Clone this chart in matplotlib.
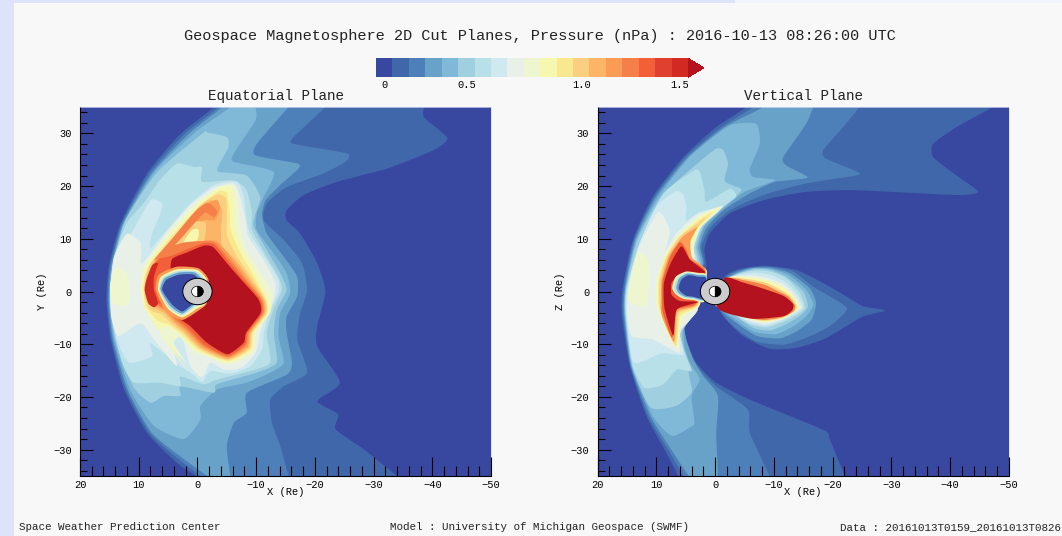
import matplotlib
matplotlib.use("Agg")
import matplotlib.pyplot as plt
import numpy as np
from matplotlib.colors import ListedColormap, BoundaryNorm
from matplotlib.patches import Circle, Wedge, Rectangle

plt.rcParams['font.family'] = ['Liberation Mono', 'DejaVu Sans Mono']

# colorbar blocks, dark blue to red, last one is the arrow
pressure_colors = ["#3847a0", "#3f67a9", "#4d7fb8", "#69a2c9", "#80b9d8", "#a0cfe0", "#b8e0e8",
                   "#d0e8f0", "#e8f0e8", "#eef6cf", "#f6f8b0", "#f9e890", "#fad080", "#fcb566",
                   "#fa9c55", "#f57f48", "#f25f38", "#e0402f", "#d22a22", "#b5121f"]
cbar_tick_blocks = [0.5, 5.5, 12.5, 18.5]
cbar_tick_labels = ["0", "0.5", "1.0", "1.5"]

title = "Geospace Magnetosphere 2D Cut Planes, Pressure (nPa) : 2016-10-13 08:26:00 UTC"
footer_left = "Space Weather Prediction Center"
footer_mid = "Model : University of Michigan Geospace (SWMF)"
footer_right = "Data : 20161013T0159_20161013T0826"

# contour outlines, (X, Y or Z) in Re
# equatorial plane
eq_1 = [(-2.8,37),(-2.8,35),(2.9,29.9),(8.6,22.4),(13.1,12.9),(15.1,4.7),(15.5,-1.6),(14.8,-9.1),(12.5,-18.6),(8.6,-26.8),(3.5,-32.5),(0.3,-35),(-1,-37),
        (-36,-37),(-34,-35),(-28.3,-29.9),(-23.5,-26.1),(-24,-23.3),(-20.4,-20.8),(-24.3,-17.3),(-20.4,-10.4),(-20.4,-6.6),(-21.8,0),(-20.4,5.4),(-17.5,11),(-15.2,13.5),(-15.2,15.4),(-18.1,18.3),(-23.8,20.8),(-32.3,23.3),(-40.2,26.8),(-42.6,29.1),(-38.6,33),(-38.6,35),(-38.6,37)]
eq_2 = [(-3.6,37),(-3.6,35),(2.2,29.9),(8.2,22.4),(12.9,12.9),(14.9,4.7),(15.3,-1.6),(14.6,-9.1),(12.2,-18.6),(8.2,-26.8),(2.9,-32.1),(-0.5,-35),(-1.5,-37),
        (-16,-37),(-15.5,-35),(-14.1,-29.3),(-12.7,-24.9),(-12.4,-20.5),(-14.7,-18),(-18.7,-15.4),(-17,-9.1),(-17.5,-4.1),(-18.7,0.3),(-17.8,5.4),(-14.7,9.8),(-11.3,13.5),(-11.8,16.7),(-15.2,19.8),(-21.5,22.4),(-25.2,24.6),(-25.5,26.2),(-16.4,28),(-16.4,29.3),(-21.8,35),(-23,37)]
eq_3 = [(-4.2,37),(-4.2,35),(1.5,29.9),(7.8,22.4),(12.7,12.9),(14.7,4.7),(15.1,-1.6),(14.4,-9.1),(11.9,-18.6),(7.8,-26.8),(2.3,-31.8),(-1.6,-35),(-2.5,-37),
        (-5.8,-37),(-5.6,-35),(-5,-29.3),(-6.2,-24.9),(-8.4,-23),(-8.4,-19.2),(-15.2,-15.8),(-16.1,-13.5),(-15.2,-7.9),(-15.2,-4.7),(-17,-0.9),(-17,2.8),(-14.7,6.6),(-11.8,11),(-11,14.5),(-11.6,17.3),(-14.1,20.2),(-17.2,23.3),(-17,24.3),(-9.9,25.8),(-10.1,28),(-15.5,35),(-16.5,37)]
eq_4 = [(-5.6,37),(-5.6,35),(0.4,30.2),(7.3,22.7),(12.5,12.9),(14.5,4.7),(15,-1.6),(14.2,-9.1),(11.5,-18.6),(7.4,-25.5),(2.3,-28),(-0.5,-24.3),(-0.5,-21.7),(-3.3,-18.6),(-8.4,-17.3),(-12.4,-15.4),(-14.7,-13.5),(-13.8,-8.5),(-14.1,-4.1),(-15.8,-0.3),(-15.2,3.5),(-13,7.2),(-10.1,11.7),(-10.1,14.8),(-11.3,18),(-13,22.7),(-6.2,24.6),(-6.2,26.2),(-9.9,32.5),(-9.9,35),(-9.9,37)]
eq_5 = [(-1.1,30.2),(6.8,22.7),(12.3,13.5),(14.4,4.7),(14.9,-1.6),(14,-9.1),(11,-18),(8,-21.1),(5.7,-19.8),(2.9,-19.8),(2.9,-18),(-2.8,-19.2),(-3.3,-17.6),(-10.1,-15.4),(-13.5,-13.5),(-13,-7.9),(-13.5,-3.5),(-15.2,0.3),(-14.1,3.5),(-11.8,7.9),(-9.6,12.3),(-9.9,14.8),(-10.7,18),(-8.4,22),(-3.6,22.7),(-3.6,23.9),(-5.3,27.4),(-5,29.3),(-1.6,30.2)]
eq_6 = [(3.5,24.3),(6.5,21),(9,17),(12.1,12.9),(14.3,6),(14.9,-1.6),(13.9,-9.1),(12.6,-14.2),(10.8,-17.3),(6.3,-17.3),(2.9,-18),(2.9,-16.1),(-1.1,-17.6),(-3.3,-16.7),(-9,-15.1),(-12.4,-13.5),(-11.8,-7.9),(-13,-3.2),(-14.4,0.3),(-13.8,2.8),(-11.8,6.6),(-9.3,11.7),(-9.3,14.8),(-8.4,19.2),(-6.2,21.1),(-0.8,20.8),(-0.8,23.6),(0.6,23.6)]
eq_7 = [(8,17.3),(11.3,11),(14.2,6),(14.8,-1.6),(13.7,-9.1),(11.7,-13.5),(7.7,-12.3),(8,-9.8),(2.9,-14.2),(0.6,-15.8),(-0.8,-17.2),(-2.2,-15.1),(-5.6,-15.6),(-9,-14.2),(-11,-11),(-11.3,-7.9),(-12.4,-3.5),(-13.8,-0.3),(-13.8,2.2),(-11.8,6),(-9,11),(-8.4,13.5),(-7.9,18),(-6.7,20.8),(-2.8,20.2),(1.2,16.7),(5.2,11.7),(8,8.2),(7.7,11),(6.3,14.8),(6,16.7)]
eq_8 = [(12,11),(9.6,9.1),(9.7,5.4),(8.8,6),(5.2,11.3),(1.2,16.4),(-2.8,19.7),(-6.2,20.5),(-7.3,18),(-8.2,13.5),(-8.7,10.4),(-11.6,5.4),(-13.3,1.6),(-13,-1.6),(-11.8,-4.1),(-10.7,-7.9),(-9.9,-11.7),(-7.3,-14.6),(-4.5,-14.8),(-2.2,-13.5),(-0.8,-16.3),(1.2,-14.2),(2.3,-9.8),(3.5,-7.9),(4.6,-9.1),(3.5,-14.2),(7.4,-9.1),(9.7,-6),(13.5,-8.5),(14.7,-4.7),(14.8,0.9),(14.2,6.6)]
eq_9 = [(8.8,5.4),(5.2,11),(0.9,16.1),(-3.3,19.7),(-6.2,20.2),(-7,17.3),(-7.2,12.9),(-8.2,8.5),(-10.4,4.2),(-12.7,0),(-12.4,-4),(-10,-7.8),(-9.6,-11.6),(-5.2,-13.9),(-1.6,-12.3),(0.6,-11.7),(2.9,-8.7),(4,-9.8),(2,-13.5),(5.7,-9.1),(6.9,-6.6),(8.8,-3.5),(9.8,0.3),(9.6,2.8)]
eq_9b = [(14.2,4.4),(12,3.5),(11.5,-0.9),(12.2,-2.8),(14.5,-2.2),(14.9,0.9)]
eq_10 = [(8.4,5.4),(4.6,10.7),(0.6,15.8),(-3.6,19.5),(-5.6,19.7),(-6.2,16.7),(-6.3,12.3),(-7.6,8),(-9.8,3.8),(-12.1,-1.5),(-12.1,-4.1),(-9.7,-7.8),(-9.3,-11.2),(-5.2,-13.5),(0,-11.3),(3,-8.2),(5,-6.6),(6.3,-7.2),(4.6,-10.7),(1.8,-14.8),(5.7,-8.5),(7.4,-6),(9,-3.2),(9.5,0.3),(9.2,2.8)]
eq_11 = [(8.1,5.4),(4,11),(0,15.8),(-3.6,19),(-5,18.6),(-5.5,15),(-5.6,12),(-7,8),(-9.3,3.5),(-11.7,-1.5),(-11.9,-4.1),(-9.5,-7.8),(-9.1,-11),(-5.2,-13.2),(-0.2,-11.1),(2.8,-8),(4.8,-6.4),(6.9,-5.4),(8.8,-2.8),(9.2,0.3),(9,2.8)]
eq_12 = [(7.7,5.7),(2.9,11.3),(-0.2,16.1),(-3.3,18.4),(-4.9,17.6),(-5,13.5),(-5.1,10.5),(-6.8,6.5),(-9,3),(-11.5,-1.5),(-11.7,-4.1),(-9.3,-7.8),(-8.9,-10.8),(-5.2,-13),(-0.4,-10.9),(2.5,-7.8),(4.4,-6.2),(6,-4.4),(8,-3.5),(9,-0.9),(8.8,2.8)]
eq_13 = [(7.4,5.7),(2.3,11.7),(-0.8,16.4),(-2.5,17.3),(-4.2,15.5),(-4,11.7),(-4.2,8.6),(-6.5,6),(-8.7,2.7),(-11.3,-1.5),(-11.5,-4.1),(-9.1,-7.8),(-8.7,-10.6),(-5.2,-12.8),(-0.6,-10.7),(2.3,-7.6),(4,-6),(5.6,-4.1),(7.7,-2.8),(8.7,-0.9),(8.6,2.8)]
eq_14 = [(7.1,5.9),(4,10.4),(0.8,14.7),(-1.1,16.4),(-3.3,17.4),(-3.9,15.8),(-3,13.6),(-1,13.5),(1.5,11.8),(3,9.9),(2,9),(-1.5,9.7),(-3.5,9.4),(-6.2,5.8),(-8.4,2.5),(-11.1,-1.5),(-11.3,-4.1),(-8.9,-7.8),(-8.5,-10.4),(-5.2,-12.6),(-0.8,-10.5),(2,-7.4),(3.8,-5.8),(5.4,-3.8),(7.4,-2.5),(8.4,-0.9),(8.3,2.8)]
eq_isle_12 = [(4,8.3),(1.2,13),(-1.4,13),(-1,9.2),(1.8,7.9)]
eq_isle_10 = [(2.3,9.5),(0.9,11.7),(-0.2,11.7),(0,9.8),(1.8,8.9)]
eq_strip = [(7.4,6),(4,10.4),(0,15.6),(-1.9,16.8),(-3.4,15.2),(-2.8,14.1),(-1.4,15),(0,13.6),(3.5,9.2),(5.7,7)]
eq_15 = [(7,6),(5.2,8.2),(2.3,9.3),(-1.4,9.6),(-3.2,9.1),(-5.9,5.5),(-8.1,2.4),(-10.9,-1.5),(-11.2,-4.1),(-8.7,-7.8),(-8.3,-10.2),(-5.2,-12.4),(-1,-10.3),(1.8,-7.2),(3.5,-5.6),(5.4,-3.5),(7.3,-2.2),(8.2,-0.9),(8.1,2.8)]
eq_16 = [(6.6,6.1),(4.6,6.7),(2,7.9),(-1.2,9.2),(-3,8.8),(-5.6,5.2),(-7.8,2.3),(-10.7,-1.5),(-11,-4.1),(-8.5,-7.8),(-8.1,-10),(-5.2,-12.2),(-1.2,-10.1),(1.5,-7),(3.2,-5.4),(5.4,-3.2),(7.1,-1.9),(8,-0.9),(7.9,2.8)]
eq_red = [(4.3,6.2),(1.8,7.4),(-1.1,8.7),(-2.7,8.4),(-5.3,5),(-7.5,2.2),(-10.4,-1.5),(-10.8,-4),(-8.3,-7.8),(-7.9,-9.7),(-5.1,-11.9),(-1.6,-9.7),(1.2,-6.6),(2.9,-5.3),(4.6,-4),(4.6,3.5)]
eq_crescent = [(7.7,5),(6.7,5.4),(7.4,2.8),(7.4,0.3),(6.7,-2.2),(7.4,-3),(8.4,-2.2),(9,0.3),(8.7,2.2)]
eq_hole_1 = [(7.1,0.3),(6.6,3.2),(3.5,4.7),(-0.2,4.4),(-1.9,2.2),(-1.6,-2.2),(-0.2,-3.6),(2.6,-5.4),(5.4,-3.8)]
eq_hole_2 = [(6.7,0.3),(6.2,2.8),(3.5,4.2),(0.1,4.1),(-1.6,2.2),(-1.4,-2.2),(0,-3.2),(2.6,-4.9),(5,-3.3)]
eq_hole_3 = [(6.5,0.3),(5.9,2.6),(3.3,3.9),(0.2,3.8),(-1.4,1.9),(-1.1,-2.2),(0.3,-2.8),(2.6,-4.5),(4.8,-3.1)]
eq_hole_4 = [(6.3,0.3),(5.6,2.5),(3.2,3.6),(0.4,3.6),(-1.1,1.6),(-0.8,-2.2),(0.6,-2.6),(2.6,-4.2),(4.6,-2.8)]
eq_hole_5 = [(6,0.3),(5.3,2.2),(3.1,3.2),(0.6,3.2),(-0.8,1.3),(-0.5,-2.2),(0.9,-2.5),(2.6,-3.8),(4.3,-2.5)]

# vertical plane
vt_1 = [(-5.3,37),(-5.3,35),(-0.2,31.2),(5.4,25.5),(10.6,18),(14,9.8),(15.7,0.9),(15.9,-4.1),(14.5,-14.2),(11.7,-23.6),(8.3,-30.6),(6.3,-35),(5.5,-37),
        (-23,-37),(-22.1,-35),(-19.5,-28),(-18.9,-26.5),(-12.7,-23.6),(-5.9,-20.5),(-0.2,-17.3),(3.2,-13.5),(4.9,-9.1),(5.4,-6),(4.3,-4.1),(2.9,-2.5),(2.9,2.8),(1.5,4.7),(1.8,7.9),(0.9,11),(-2.5,14.8),(-8.2,17.3),(-15.5,18.9),(-24,19.2),(-41.1,18.3),(-44.8,18.9),(-41.1,22),(-37.1,25.5),(-37.1,28),(-41.1,31.2),(-47.3,35),(-50,37)]
vt_2 = [(-6.5,37),(-6.5,35),(-1.1,31.2),(5,25.5),(10.3,18),(13.8,9.8),(15.5,0.9),(15.7,-4.1),(14.4,-14.2),(11.4,-23.6),(7.7,-30.6),(5.4,-35),(4.5,-37),
        (-10,-37),(-9.3,-35),(-5.9,-26.8),(-5.6,-22.4),(-0.2,-18),(2.6,-14.8),(4.3,-11.7),(5.2,-7.9),(5.4,-5.7),(4,-4.1),(2.9,-2.7),(2.9,2.8),(1.8,5.4),(2.3,8.5),(0.9,12),(-2.5,15.4),(-8.2,18.3),(-15.5,20.5),(-24,22),(-24.3,22.7),(-18.9,25.2),(-18.4,26.8),(-21.8,31.2),(-24.6,35),(-26,37)]
vt_3 = [(-8.2,37),(-8.2,35),(-1.6,31.2),(4.6,25.5),(10,18),(13.6,9.8),(15.3,0.9),(15.5,-4.1),(14.3,-14.2),(11,-23.6),(7.1,-30.6),(4.5,-35),(3.5,-37),
        (-0.5,-37),(-0.5,-35),(-0.2,-26.8),(-0.5,-19.8),(2,-16.1),(3.7,-12.9),(4.9,-9.1),(5.2,-6.3),(4,-4.4),(3.1,-2.8),(2.9,2.8),(2,5.4),(2.6,8.5),(1.5,12),(-1.4,15.4),(-5.9,18.6),(-10.2,20.8),(-15.8,21.6),(-12.1,23.9),(-11.6,25.5),(-15.5,31.8),(-16.7,35),(-17.5,37)]
vt_4 = [(-7,31.8),(-2.5,31.5),(4.1,25.8),(9.6,18),(13.4,9.8),(15.2,0.9),(15.4,-4.1),(14.2,-14.2),(10.6,-23.6),(7.4,-27.4),(4.3,-25.8),(3.5,-24.9),(4,-19.8),(2.6,-16.7),(4.3,-13.5),(5.2,-10.4),(5.4,-6.6),(4,-4.7),(3.2,-3.2),(2.9,3.2),(2.3,5.4),(2.9,8.5),(1.8,12.3),(-1.1,15.4),(-5,18.9),(-10.2,21.1),(-6.5,21.7),(-5.9,23.3),(-7.6,28)]
vt_5 = [(-1.4,26.8),(-0.2,27.1),(3,24.3),(9.2,18),(13.2,9.8),(15.1,0.9),(15.3,-4.1),(14.1,-14.2),(11,-22),(6.6,-21.7),(4,-19.2),(4.3,-16.7),(4.6,-14.8),(5.2,-11.7),(5.7,-7.9),(4.3,-5.4),(3.3,-3.3),(2.9,3.2),(2.6,5.4),(3.2,8.5),(2,12.3),(-0.5,15.1),(-4.5,19.2),(-2.8,20.2),(-1.6,21.1),(-2.2,24.3)]
vt_6 = [(2.6,22.7),(3.7,22.9),(8.8,18.6),(12.6,9.8),(15,0.9),(15.2,-4.1),(14,-14.2),(12,-18.3),(8.8,-17.6),(6.5,-14.8),(4,-15.1),(4.9,-12.3),(6,-7.9),(4.3,-5.4),(2.9,-3.2),(2.9,3.2),(2.9,5.4),(3.5,8.5),(2.3,12.3),(-0.2,15.1),(-3.6,18),(-2.5,19.5),(1.5,17),(1.8,19.2)]
vt_7 = [(5.4,18.3),(6.6,19.1),(10,16.1),(13.1,8.5),(14.9,0.9),(15.1,-4.1),(13.9,-13.5),(9.1,-11.7),(5.4,-12),(6,-7.9),(4.3,-5.4),(2.9,-3.2),(2.9,3.2),(3.2,5.4),(3.7,8.5),(2.9,12.3),(0.1,15.1),(-1.4,16.1),(2.6,15.1),(4.9,13.5),(4.9,16.1)]
vt_8 = [(9.7,15.1),(8,12.6),(7.7,11),(8.4,7.9),(6.6,11),(3.2,14.5),(-1.1,16.2),(-0.5,15.1),(2.3,12.3),(3.6,8.5),(3.3,5.4),(2.9,3.2),(2.9,-3.2),(4.3,-5.4),(6.3,-7.9),(6,-11.7),(10.6,-9.1),(14.2,-8.5),(15,-4.1),(14.7,0.9),(12.9,8.5)]
vt_9 = [(10,2.2),(8.7,6.6),(6.5,10.4),(2.6,14.4),(-1.2,16.2),(0.1,14.8),(2.6,12),(3.7,8.5),(3.5,5.4),(1.5,4),(2.9,-3),(4.6,-4.1),(5.8,-7),(6.3,-11),(8,-8.4),(10,-2.8)]
vt_9b = [(13.1,7.6),(11.4,6),(11.2,2.2),(11.7,-2.8),(14.8,-1.6),(14.2,3.5)]
vt_10 = [(9.8,2.2),(8.5,6.6),(6.3,10.4),(2.5,14.2),(-0.8,16),(0.3,14.7),(2.9,11.7),(4,8.5),(3.6,5.4),(1.4,3.9),(2.6,-2.6),(4.3,-3.9),(5.9,-5),(6.5,-10.6),(8,-8),(9.8,-2.8)]
vt_11 = [(9.6,2.2),(8.3,6.6),(6.1,10.4),(2.6,13.7),(0.2,15.1),(3.2,11.7),(4.3,8.5),(3.7,5.4),(1.4,3.8),(2.8,-2.5),(4.6,-3.7),(6,-4.8),(6.6,-10.4),(8,-7.5),(9.6,-2.8)]
vt_12 = [(9.4,2.2),(8.2,6.6),(6,10.4),(3,12.9),(1.5,14.1),(3.6,11.3),(4.5,8.5),(3.8,5.9),(1.5,3.9),(2.9,-2.4),(4.9,-3.5),(6.3,-4.4),(6.8,-10),(8,-7),(9.4,-2.8)]
vt_14 = [(9.1,2.2),(7.9,6.6),(5.6,10.3),(3,12.2),(4.2,9.6),(3.9,6.4),(1.6,4),(3.1,-2.4),(5,-3.3),(6.5,-4),(7,-9.6),(9.1,-4.5),(9.2,-1)]
vt_16 = [(8.9,2.2),(7.6,6.7),(6,9.4),(4.9,7.9),(4.2,6),(1.7,3.9),(3.2,-2.2),(5.2,-3),(6.7,-3.6),(7.3,-8.8),(8.9,-4),(9,-1)]
vt_red = [(5.7,8.6),(4.3,6.1),(1.6,3.6),(4.5,3.7),(6,3.2),(7.4,1.7),(7.4,-0.6),(6,-1.8),(2.8,-2),(6.5,-3.4),(7.1,-8.4),(8.6,-3.2),(8.7,1.6),(7.5,5.5)]
vt_hole_1 = [(7.3,0.7),(6.7,2.8),(4.9,3.8),(2.9,3.5),(1.5,3.1),(1.8,-1.9),(3.7,-1.6),(5.4,-1.4),(6.7,-0.5)]
vt_hole_2 = [(7,0.7),(6.4,2.6),(4.8,3.6),(2.9,3.3),(1.5,2.9),(1.8,-1.7),(3.7,-1.4),(5.3,-1.2),(6.5,-0.4)]
vt_hole_3 = [(6.6,0.7),(6.1,2.5),(4.7,3.4),(2.9,3.1),(1.5,2.8),(1.8,-1.5),(3.7,-1.2),(5.1,-1),(6.2,-0.3)]
vt_hole_4 = [(6.2,0.7),(5.7,2.3),(4.5,3.1),(2.9,2.8),(1.5,2.5),(1.8,-1.3),(3.7,-1),(4.9,-0.8),(5.8,-0.1)]
# plasma sheet behind the earth
tail_1 = [(-1.4,2.5),(-3.6,4.1),(-8.2,4.9),(-13.8,4.1),(-18.4,1.6),(-22.3,-0.9),(-25.2,-2.8),(-29,-3.6),(-25.2,-4.7),(-22.3,-6.6),(-18.4,-9.1),(-13.8,-10.7),(-9.3,-10.9),(-4.8,-8.5),(-1.9,-5.4),(-0.5,-2.8)]
tail_2 = [(-1.9,2.8),(-5.3,4.4),(-9.3,4.7),(-13.3,3.8),(-16.7,0.9),(-19.5,-0.9),(-22.5,-3.3),(-19.5,-6.6),(-15.5,-8.8),(-11.6,-10.1),(-7,-9.5),(-3.1,-6.6),(-0.8,-3.2)]
tail_3 = [(-2.5,2.8),(-5.9,4.4),(-9.3,4.5),(-12.7,3.5),(-16.1,0.6),(-17.2,-2.2),(-16.4,-5.4),(-13.8,-7.6),(-11,-8.9),(-7,-8.4),(-3.3,-5.7),(-0.9,-3)]
tail_4 = [(-2.8,2.8),(-6.5,4.4),(-9.3,4.3),(-12.4,3.2),(-15.5,0.3),(-16.7,-2.5),(-15.5,-4.7),(-13.3,-6.6),(-10.4,-8.1),(-6.5,-7.6),(-3.1,-5),(-0.8,-2.8)]
tail_5 = [(-2.8,2.7),(-6.5,4.2),(-9.3,4.1),(-12.1,2.8),(-15,0),(-15.8,-2.8),(-14.7,-4.4),(-12.1,-6.2),(-9.3,-7.4),(-6.5,-6.9),(-3.1,-4.4),(-0.5,-2.7)]
tail_6 = [(-2.5,2.6),(-6.5,4),(-9.3,3.8),(-12.1,2.5),(-14.4,-0.2),(-15.3,-3),(-14.1,-4.3),(-11.6,-5.8),(-8.7,-6.8),(-5.9,-6.2),(-2.8,-4.1),(-0.3,-2.7)]
tail_7 = [(-2.3,2.5),(-6.5,3.6),(-9.3,3.2),(-12,1.8),(-14,-0.5),(-15,-3),(-13.7,-4.2),(-11.5,-5.5),(-8.7,-6.5),(-5.9,-5.9),(-2.8,-3.9),(-0.2,-2.6)]
tail_8 = [(-2.1,2.5),(-6.2,3.1),(-9,2.6),(-11.8,1.3),(-13.6,-0.7),(-14.7,-3),(-13.4,-4.1),(-11.3,-5.3),(-8.6,-6.2),(-5.9,-5.6),(-2.8,-3.7),(-0.1,-2.5)]
tail_10 = [(-1.9,2.6),(-6,2.7),(-9,2.1),(-11.5,0.9),(-13.2,-0.6),(-14.3,-3),(-13.4,-4),(-11.4,-5.2),(-8.5,-5.8),(-5.8,-5.2),(-2.7,-3.5),(0,-2.5)]
tail_12 = [(-1.7,2.5),(-5.8,2.3),(-8.8,1.6),(-11.2,0.3),(-12.8,-0.9),(-13.9,-2.9),(-13.3,-3.9),(-11.4,-5),(-8.4,-5.6),(-5.7,-5),(-2.6,-3.3),(0.1,-2.4)]
tail_15 = [(-1.6,2.5),(-5.6,2),(-8.6,1.2),(-11,-0.1),(-12.5,-1),(-13.6,-2.7),(-13.3,-3.8),(-11.4,-4.9),(-8.3,-5.4),(-5.6,-4.9),(-2.5,-3.2),(0.1,-2.4)]
tail_red = [(-1.6,2.6),(-4.5,1.8),(-7.5,0.8),(-11.6,-0.8),(-13.3,-2.4),(-13.1,-3.6),(-11.6,-4.7),(-6.5,-5.2),(-2,-4.1),(-0.3,-2.7)]

# (colour block, outline), painted in this order
eq_layers = [(1,eq_1),(2,eq_2),(3,eq_3),(4,eq_4),(5,eq_5),(6,eq_6),(7,eq_7),(8,eq_8),(9,eq_9),(9,eq_9b),(10,eq_10),
             (11,eq_11),(12,eq_12),(13,eq_13),(14,eq_14),(12,eq_isle_12),(10,eq_isle_10),(15,eq_15),(15,eq_strip),(16,eq_16),(19,eq_red),(18,eq_crescent),
             (14,eq_hole_1),(10,eq_hole_2),(6,eq_hole_3),(3,eq_hole_4),(0,eq_hole_5)]
vt_layers = [(1,vt_1),(2,vt_2),(3,vt_3),(4,vt_4),(5,vt_5),(6,vt_6),(7,vt_7),(8,vt_8),(9,vt_9),(9,vt_9b),(10,vt_10),
             (11,vt_11),(12,vt_12),(14,vt_14),(16,vt_16),(19,vt_red),
             (10,vt_hole_1),(6,vt_hole_2),(3,vt_hole_3),(0,vt_hole_4),
             (1,tail_1),(2,tail_2),(3,tail_3),(4,tail_4),(5,tail_5),(6,tail_6),(7,tail_7),(8,tail_8),
             (10,tail_10),(12,tail_12),(15,tail_15),(19,tail_red)]


def smooth(outline, steps=6, k=0.3):
    # closed cardinal spline through the read points
    p = np.array(outline, dtype=float)
    m = k*(np.roll(p, -1, axis=0) - np.roll(p, 1, axis=0))
    t = np.linspace(0, 1, steps, endpoint=False)[:, None, None]
    p0, p1, m0, m1 = p[None], np.roll(p, -1, axis=0)[None], m[None], np.roll(m, -1, axis=0)[None]
    c = (2*t**3-3*t**2+1)*p0 + (t**3-2*t**2+t)*m0 + (-2*t**3+3*t**2)*p1 + (t**3-t**2)*m1
    return c.transpose(1, 0, 2).reshape(-1, 2)


def draw_panel(ax, layers, panel_title, ylab, title_x):
    ax.set_facecolor(pressure_colors[0])
    for level, outline in layers:
        pts = smooth(outline)
        ax.fill(pts[:, 0], pts[:, 1], color=pressure_colors[level], lw=0)
    # earth
    ax.add_patch(Circle((0, 0), 2.5, fc="#cccccc", ec="black", lw=0.7, zorder=5))
    ax.add_patch(Circle((0, 0), 1.0, fc="white", ec="black", lw=0.5, zorder=6))
    ax.add_patch(Wedge((0, 0), 1.0, 90, 270, fc="black", ec="black", lw=0.3, zorder=7))
    ax.set_xlim(20, -50)
    ax.set_ylim(-35, 35)
    ax.set_xticks(np.arange(-50, 21, 10))
    ax.set_xticks(np.arange(-50, 21, 2), minor=True)
    ax.set_yticks(np.arange(-30, 31, 10))
    ax.set_yticks(np.arange(-34, 35, 2), minor=True)
    ax.tick_params(axis="x", which="major", direction="in", length=14, width=0.8, labelsize=7.5, pad=3)
    ax.tick_params(axis="x", which="minor", direction="in", length=7, width=0.8)
    ax.tick_params(axis="y", which="major", direction="in", length=9.5, width=0.8, labelsize=7.5, pad=6)
    ax.tick_params(axis="y", which="minor", direction="in", length=4.8, width=0.8)
    ax.set_axisbelow(False)
    ax.spines["top"].set_color("#d8dcf0")
    ax.spines["right"].set_color("#d8dcf0")
    ax.spines["top"].set_linewidth(0.5)
    ax.spines["right"].set_linewidth(0.5)
    ax.set_xlabel("X (Re)", fontsize=7.5, labelpad=-2)
    ax.set_ylabel(ylab, fontsize=7.5, labelpad=4)
    ax.set_title(panel_title, fontsize=10.3, pad=5, color="#222222", x=title_x)


W, H = 1062, 536
fig = plt.figure(figsize=(W/100, H/100), dpi=100, facecolor="#f8f8f8")
fig.add_artist(Rectangle((0, 0), 14/W, 1, transform=fig.transFigure, fc="#dde3f8", ec="none"))
fig.add_artist(Rectangle((14/W, 1-3/H), 721/W, 3/H, transform=fig.transFigure, fc="#dde3f8", ec="none"))
fig.add_artist(Rectangle((735/W, 1-3/H), 327/W, 3/H, transform=fig.transFigure, fc="#f0f5ff", ec="none"))

ax1 = fig.add_axes([80/W, 1-476/H, 411/W, 369/H])
ax2 = fig.add_axes([597.5/W, 1-476/H, 411.5/W, 369/H])
draw_panel(ax1, eq_layers, "Equatorial Plane", "Y (Re)", 0.478)
draw_panel(ax2, vt_layers, "Vertical Plane", "Z (Re)", 0.5)

# colorbar with the arrow for the over colour
cax = fig.add_axes([376/W, 1-77.3/H, 328/W, 19/H])
n_blocks = len(pressure_colors) - 1
cmap = ListedColormap(pressure_colors[:n_blocks])
cmap.set_over(pressure_colors[n_blocks])
norm = BoundaryNorm(np.arange(n_blocks + 1), n_blocks)
cb = fig.colorbar(plt.cm.ScalarMappable(norm=norm, cmap=cmap), cax=cax, orientation="horizontal",
                  extend="max", extendfrac=16/312, spacing="uniform")
cb.outline.set_visible(False)
cb.set_ticks(cbar_tick_blocks, labels=cbar_tick_labels)
cb.minorticks_off()
cax.tick_params(length=0, labelsize=7.5, pad=2)

fig.text(540/W, 1-36/H, title, ha="center", va="center", fontsize=11, color="#222222")
fig.text(19/W, 1-527/H, footer_left, ha="left", va="center", fontsize=7.8, color="#222222")
fig.text(540/W, 1-527/H, footer_mid, ha="center", va="center", fontsize=7.8, color="#222222")
fig.text(1061/W, 1-527/H, footer_right, ha="right", va="center", fontsize=7.8, color="#222222")

fig.savefig("out.png", dpi=100, facecolor=fig.get_facecolor())
